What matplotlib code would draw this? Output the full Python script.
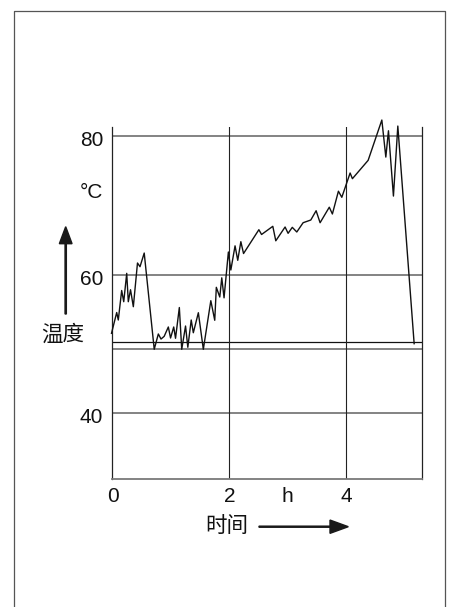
import matplotlib
matplotlib.use("Agg")
import matplotlib.pyplot as plt
from matplotlib.patches import FancyArrow
from matplotlib.lines import Line2D
import matplotlib.transforms as mtransforms

# ---- data ----
time_h = [0.0, 0.089, 0.116, 0.174, 0.209, 0.260, 0.287, 0.325, 0.373, 0.444,
          0.487, 0.559, 0.730, 0.800, 0.846, 0.900, 0.971, 1.009, 1.063, 1.094,
          1.159, 1.200, 1.265, 1.304, 1.362, 1.398, 1.484, 1.569, 1.697, 1.764,
          1.791, 1.850, 1.884, 1.923, 1.997, 2.039, 2.111, 2.157, 2.210, 2.256,
          2.518, 2.564, 2.756, 2.807, 2.966, 3.017, 3.089, 3.166, 3.274, 3.405,
          3.496, 3.564, 3.721, 3.774, 3.877, 3.935, 4.077, 4.116, 4.385, 4.619,
          4.687, 4.732, 4.817, 4.892, 5.171]
temp_c = [51.54, 54.54, 53.46, 57.72, 56.10, 60.20, 56.10, 57.83, 55.38, 61.69,
          61.16, 63.13, 49.23, 51.44, 50.71, 51.10, 52.45, 50.86, 52.45, 50.82,
          55.26, 49.23, 52.59, 49.52, 53.46, 51.62, 54.51, 49.23, 56.25, 53.42,
          58.18, 56.78, 59.55, 56.66, 63.28, 60.68, 64.17, 62.08, 64.77, 63.06,
          66.50, 65.81, 66.99, 64.90, 66.89, 65.98, 66.84, 66.17, 67.51, 67.90,
          69.24, 67.51, 69.75, 68.77, 72.06, 71.18, 74.69, 73.87, 76.52, 82.34,
          76.99, 80.79, 71.36, 81.47, 50.04]
y_ticks = [40, 60, 80]
y_tick_labels = ["40", "60", "80"]
x_ticks = [0, 2, 4]
x_tick_labels = ["0", "2", "4"]
x_unit_pos = 3
x_unit_label = "h"
y_unit_label = "°C"
ref_line_dark = 50.24
ref_line_gray = 49.23
x_title = "时间"
y_title = "温度"

# ---- figure ----
W, H = 449, 607
fig = plt.figure(figsize=(W / 100, H / 100), dpi=100)
ax = fig.add_axes([111.5 / W, 1 - 478.7 / H, 310.2 / W, 351.4 / H])
ax.set_xlim(0, 5.30)
ax.set_ylim(30.54, 81.29)
ax.set_xticks([])
ax.set_yticks([])

num_font = "Liberation Sans"
cjk_font = ["Noto Sans CJK SC", "DejaVu Sans"]
txt_col = "#111111"
gray = "#7a7a7a"
dark = "#222222"
fs = 15
fs_cjk = 15.5

ax.spines["top"].set_visible(False)
ax.spines["left"].set_color(dark)
ax.spines["left"].set_linewidth(0.9)
ax.spines["right"].set_color(dark)
ax.spines["right"].set_linewidth(0.9)
ax.spines["bottom"].set_color(gray)
ax.spines["bottom"].set_linewidth(1.3)

# horizontal gridlines
for v in y_ticks:
    ax.axhline(v, color=gray, lw=1.3, zorder=1)
ax.axhline(ref_line_gray, color=gray, lw=1.3, zorder=1)
ax.axhline(ref_line_dark, color="#111111", lw=0.9, zorder=1)
# vertical gridlines
for v in x_ticks[1:]:
    ax.axvline(v, color=dark, lw=0.8, zorder=1)

# data line
ax.plot(time_h, temp_c, color="#111111", lw=1.0, clip_on=False, zorder=3)

# y tick labels
ytrans = mtransforms.blended_transform_factory(ax.transAxes, ax.transData)
for v, lab in zip(y_ticks, y_tick_labels):
    ax.text(-0.0264, v - 1.444, lab, transform=ytrans, ha="right", va="baseline",
            fontsize=fs, family=num_font, color=txt_col)
ax.text(-0.0264, 71.03, y_unit_label, transform=ytrans, ha="right", va="baseline",
        fontsize=fs, family=num_font, color=txt_col)

# x tick labels
xtrans = mtransforms.blended_transform_factory(ax.transData, ax.transAxes)
for v, lab in zip(x_ticks, x_tick_labels):
    ax.text(v + 0.02, -0.0655, lab, transform=xtrans, ha="center", va="baseline",
            fontsize=fs, family=num_font, color=txt_col)
ax.text(x_unit_pos, -0.0655, x_unit_label, transform=xtrans, ha="center",
        va="baseline", fontsize=fs, family=num_font, color=txt_col)

# titles
fig.text(227 / W, 1 - 526 / H, x_title, ha="center", va="center",
         fontsize=fs_cjk, family=cjk_font, color=txt_col)
fig.text(63 / W, 1 - 335 / H, y_title, ha="center", va="center",
         fontsize=fs_cjk, family=cjk_font, color=txt_col)

# arrows (inches)
tr = fig.dpi_scale_trans
up = FancyArrow(0.657, (H - 314) / 100, 0, (314 - 226.7) / 100, width=0.013,
                head_width=0.127, head_length=0.17, length_includes_head=True,
                color="#1a1a1a", transform=tr)
right = FancyArrow(2.59, (H - 526.7) / 100, 3.483 - 2.59, 0, width=0.011,
                   head_width=0.133, head_length=0.183, length_includes_head=True,
                   color="#1a1a1a", transform=tr)
fig.add_artist(up)
fig.add_artist(right)

# frame
fx0, fx1, fy1 = 0.143, 4.45, (H - 10.5) / 100
fig.add_artist(Line2D([fx0, fx0, fx1, fx1], [-0.1, fy1, fy1, -0.1],
                      color="#555555", lw=0.9, transform=tr))

fig.savefig("out.png", dpi=100)
